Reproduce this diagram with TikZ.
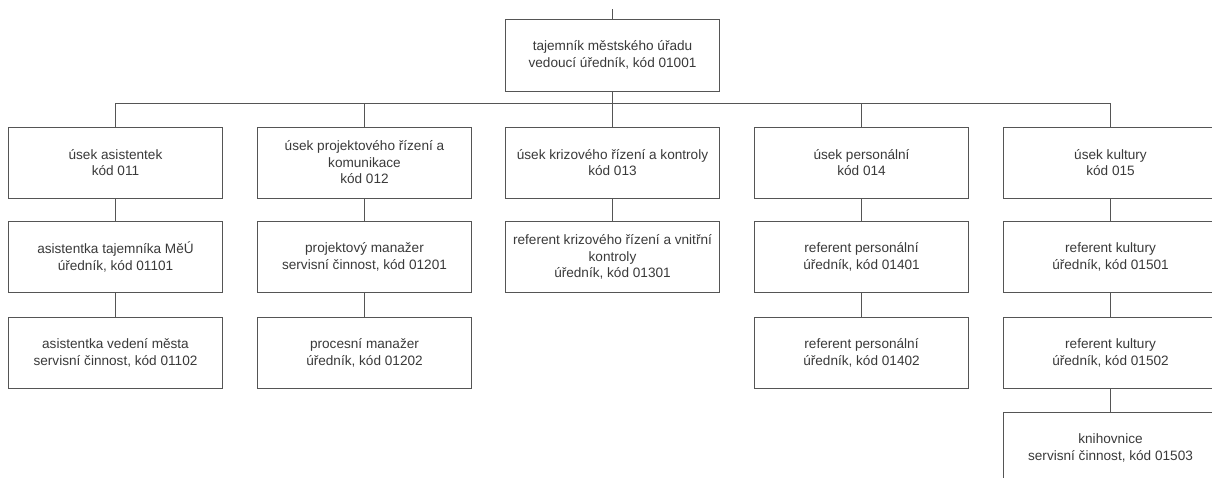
\documentclass[tikz,border=0pt]{standalone}
\usepackage{fontspec}
\setmainfont{Liberation Sans}
\definecolor{linec}{HTML}{555555}
\definecolor{txt}{HTML}{3A3A3A}
\begin{document}
\begin{tikzpicture}[x=1pt,y=-1pt,
  box/.style={draw=linec, line width=1pt, minimum width=214pt, minimum height=71pt,
    inner sep=0pt, align=center, font=\fontsize{13.6}{16.5}\selectfont, text=txt, fill=white},
  conn/.style={draw=linec, line width=1pt}]
\path[use as bounding box] (0,0) rectangle (1212,477);
\clip (0,0) rectangle (1212,477);
% top
\node[box, minimum height=72pt] (top) at (612.5,55) {tajemník městského úřadu\\vedoucí úředník, kód 01001};
% row 1
\node[box] (a1) at (115.5,162.5) {úsek asistentek\\kód 011};
\node[box] (b1) at (364.5,162.5) {úsek projektového řízení a\\komunikace\\kód 012};
\node[box] (c1) at (612.5,162.5) {úsek krizového řízení a kontroly\\kód 013};
\node[box] (d1) at (861.5,162.5) {úsek personální\\kód 014};
\node[box] (e1) at (1110.5,162.5) {úsek kultury\\kód 015};
% row 2
\node[box] (a2) at (115.5,257) {asistentka tajemníka MěÚ\\úředník, kód 01101};
\node[box] (b2) at (364.5,257) {projektový manažer\\servisní činnost, kód 01201};
\node[box] (c2) at (612.5,257) {referent krizového řízení a vnitřní\\kontroly\\úředník, kód 01301};
\node[box] (d2) at (861.5,257) {referent personální\\úředník, kód 01401};
\node[box] (e2) at (1110.5,257) {referent kultury\\úředník, kód 01501};
% row 3
\node[box] (a3) at (115.5,353) {asistentka vedení města\\servisní činnost, kód 01102};
\node[box] (b3) at (364.5,353) {procesní manažer\\úředník, kód 01202};
\node[box] (d3) at (861.5,353) {referent personální\\úředník, kód 01402};
\node[box] (e3) at (1110.5,353) {referent kultury\\úředník, kód 01502};
% row 4
\node[box] (e4) at (1110.5,448) {knihovnice\\servisní činnost, kód 01503};
% connectors
\coordinate (in) at (612.5,9);
\coordinate (bus) at (612.5,103);
\draw[conn] (in) -- (top.north);
\draw[conn] (top.south) -- (bus);
\draw[conn] (a1.north) -- (a1.north |- bus) -- (e1.north |- bus) -- (e1.north);
\draw[conn] (b1.north) -- (b1.north |- bus);
\draw[conn] (c1.north) -- (bus);
\draw[conn] (d1.north) -- (d1.north |- bus);
\draw[conn] (a1) -- (a2);
\draw[conn] (a2) -- (a3);
\draw[conn] (b1) -- (b2);
\draw[conn] (b2) -- (b3);
\draw[conn] (c1) -- (c2);
\draw[conn] (d1) -- (d2);
\draw[conn] (d2) -- (d3);
\draw[conn] (e1) -- (e2);
\draw[conn] (e2) -- (e3);
\draw[conn] (e3) -- (e4);
\end{tikzpicture}
\end{document}
